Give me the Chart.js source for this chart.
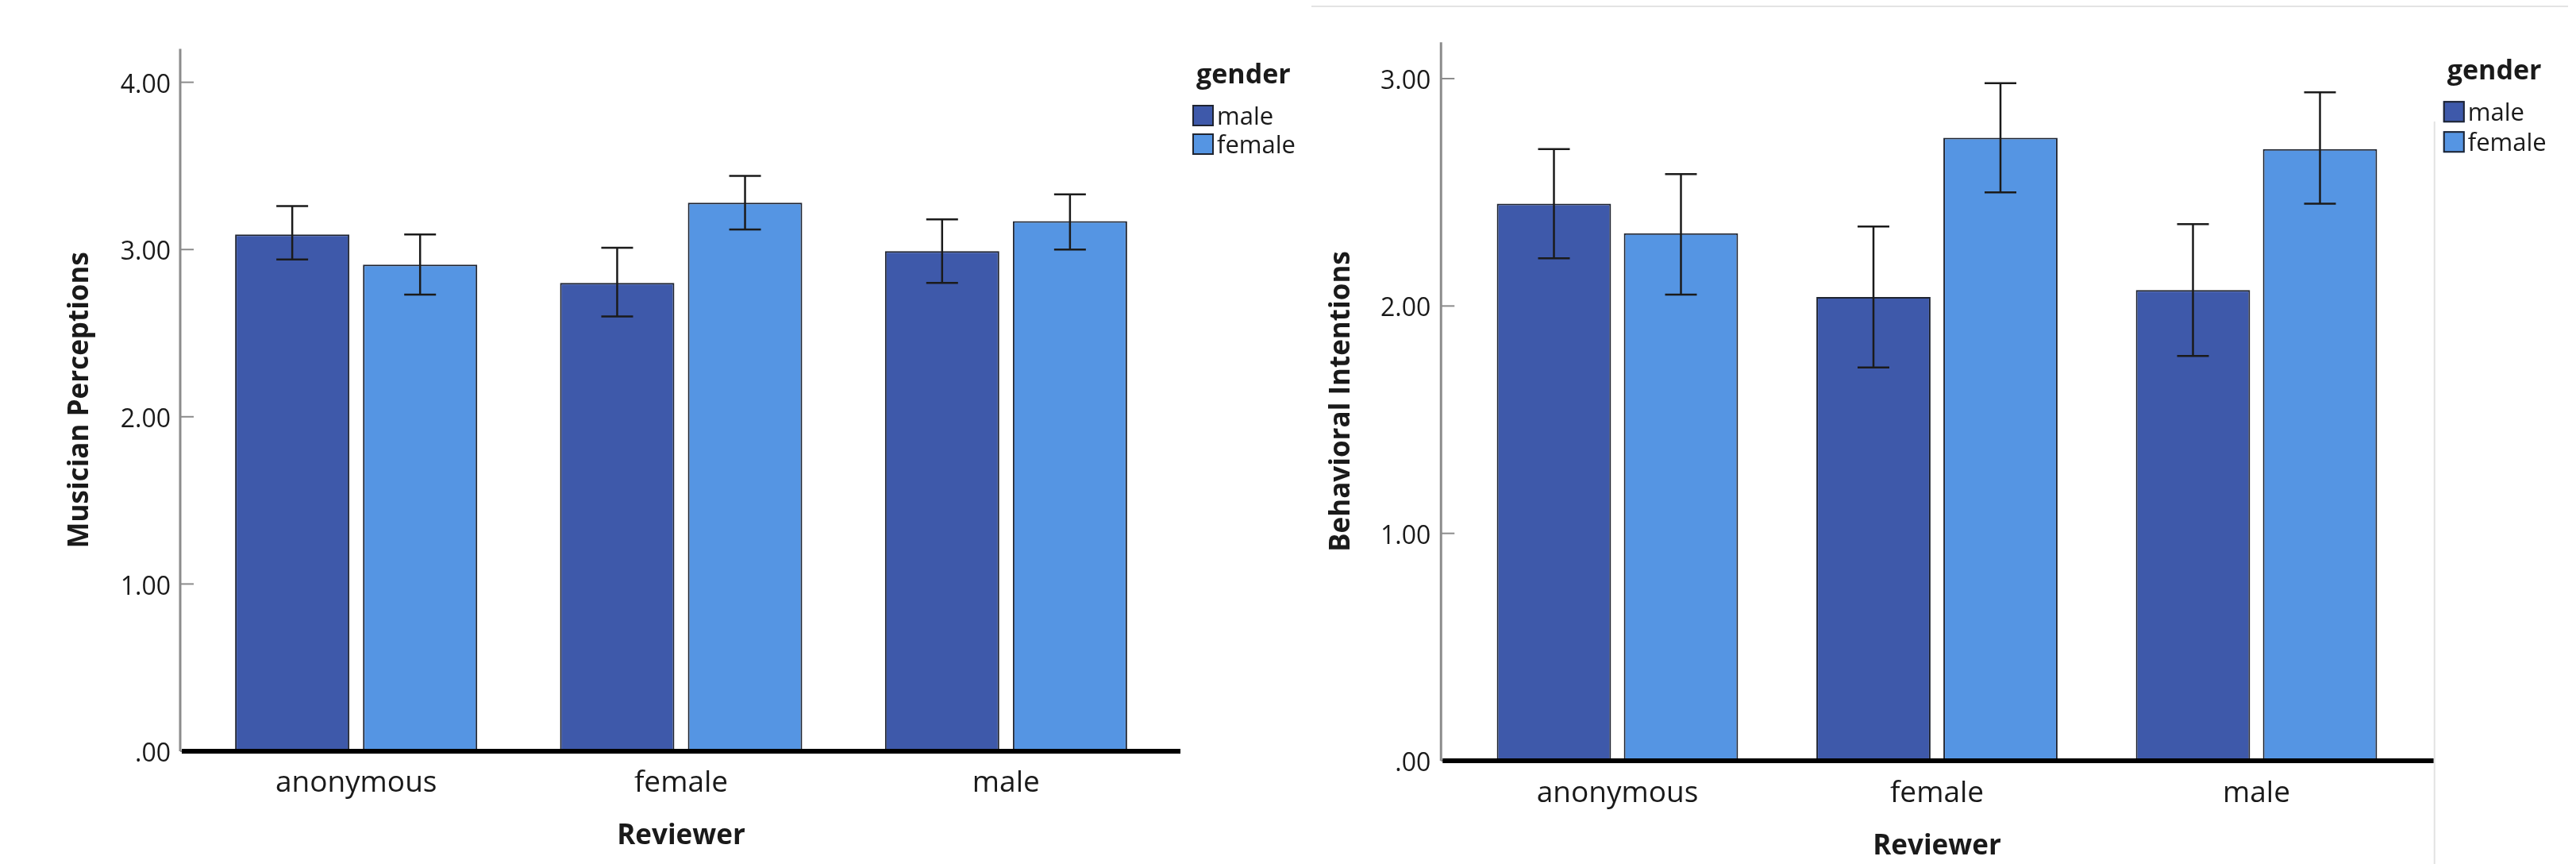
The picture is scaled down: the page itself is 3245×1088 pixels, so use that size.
<!DOCTYPE html>
<html><head><meta charset="utf-8">
<script src="https://cdn.jsdelivr.net/npm/chart.js@4.4.1/dist/chart.umd.min.js"></script>
<style>
html,body{margin:0;padding:0;background:#fff;}
body{width:3245px;height:1088px;position:relative;overflow:hidden;}
#c1{position:absolute;left:0;top:0;}
#c2{position:absolute;left:1650px;top:0;}
</style></head><body>
<canvas id="c1" width="1650" height="1088"></canvas>
<canvas id="c2" width="1595" height="1088"></canvas>
<script>
// ---- data ----
const categories = ['anonymous', 'female', 'male'];
const seriesNames = ['male', 'female'];
const legendTitle = 'gender';
const xTitle = 'Reviewer';

const musicianTitle = 'Musician Perceptions';
const musicianMale = [3.09, 2.80, 2.99];
const musicianFemale = [2.91, 3.28, 3.17];
const musicianMaleLow = [2.94, 2.60, 2.80];
const musicianMaleHigh = [3.26, 3.01, 3.18];
const musicianFemaleLow = [2.73, 3.12, 3.00];
const musicianFemaleHigh = [3.09, 3.44, 3.33];
const musicianTickValues = [0, 1, 2, 3, 4];
const musicianTickLabels = ['.00', '1.00', '2.00', '3.00', '4.00'];

const behavioralTitle = 'Behavioral Intentions';
const behavioralMale = [2.45, 2.04, 2.07];
const behavioralFemale = [2.32, 2.74, 2.69];
const behavioralMaleLow = [2.21, 1.73, 1.78];
const behavioralMaleHigh = [2.69, 2.35, 2.36];
const behavioralFemaleLow = [2.05, 2.50, 2.45];
const behavioralFemaleHigh = [2.58, 2.98, 2.94];
const behavioralTickValues = [0, 1, 2, 3];
const behavioralTickLabels = ['.00', '1.00', '2.00', '3.00'];

// ---- styling ----
const seriesColors = ['#3e59aa', '#5595e3'];
const FONT = "'Open Sans', 'DejaVu Sans', sans-serif";
const TEXT = '#1a1a1a';
const AXIS_GRAY = '#8c8c8c';

const spssPlugin = {
  id: 'spss',
  afterDatasetsDraw(chart, args, o) {
    const ctx = chart.ctx, y = chart.scales.y, a = chart.chartArea;
    // error bars
    chart.data.datasets.forEach((ds, di) => {
      const meta = chart.getDatasetMeta(di);
      meta.data.forEach((bar, i) => {
        const yl = y.getPixelForValue(ds.errLow[i]);
        const yh = y.getPixelForValue(ds.errHigh[i]);
        ctx.save();
        ctx.strokeStyle = o.errColor; ctx.lineWidth = o.errWidth;
        ctx.beginPath();
        ctx.moveTo(bar.x, yl); ctx.lineTo(bar.x, yh);
        ctx.moveTo(bar.x - o.cap / 2, yl); ctx.lineTo(bar.x + o.cap / 2, yl);
        ctx.moveTo(bar.x - o.cap / 2, yh); ctx.lineTo(bar.x + o.cap / 2, yh);
        ctx.stroke();
        ctx.restore();
      });
    });
    // y axis line + inward ticks
    const ax = a.left - o.axisGap;
    const y0 = y.getPixelForValue(0);
    ctx.save();
    ctx.strokeStyle = AXIS_GRAY; ctx.lineWidth = 3;
    ctx.beginPath(); ctx.moveTo(ax, a.top); ctx.lineTo(ax, y0); ctx.stroke();
    ctx.lineWidth = 2;
    y.ticks.forEach((t, i) => {
      const py = y.getPixelForTick(i);
      ctx.beginPath(); ctx.moveTo(ax, py); ctx.lineTo(ax + 17, py); ctx.stroke();
    });
    // baseline
    ctx.strokeStyle = '#000'; ctx.lineWidth = 6;
    ctx.beginPath(); ctx.moveTo(ax + 2, y0); ctx.lineTo(a.right + o.baseExt, y0); ctx.stroke();
    ctx.restore();
  },
  afterDraw(chart, args, o) {
    const ctx = chart.ctx, a = chart.chartArea, L = o.legend;
    ctx.save();
    // frame artifacts
    if (o.frame) {
      ctx.strokeStyle = '#e3e3e3'; ctx.lineWidth = 2;
      ctx.beginPath();
      ctx.moveTo(o.frame.x1, o.frame.top); ctx.lineTo(o.frame.x2, o.frame.top);
      ctx.moveTo(a.right + o.baseExt + 1, o.frame.vTop); ctx.lineTo(a.right + o.baseExt + 1, chart.height);
      ctx.stroke();
    }
    // legend
    const lx = a.right + L.dx;
    ctx.fillStyle = TEXT;
    ctx.textBaseline = 'alphabetic'; ctx.textAlign = 'left';
    ctx.font = "bold 34px " + FONT;
    ctx.fillText(legendTitle, lx + 5, a.top + L.titleDy);
    ctx.font = "31px " + FONT;
    chart.data.datasets.forEach((ds, i) => {
      const sy = a.top + L.swatchDy + i * L.rowH;
      ctx.fillStyle = ds.backgroundColor;
      ctx.fillRect(lx, sy, 27, 27);
      ctx.strokeStyle = '#1f2430'; ctx.lineWidth = 2;
      ctx.strokeRect(lx + 1, sy + 1, 25, 25);
      ctx.fillStyle = TEXT;
      ctx.fillText(ds.label, lx + 31, sy + 25);
    });
    ctx.restore();
  }
};

function makeChart(canvasId, cfg) {
  return new Chart(document.getElementById(canvasId), {
    type: 'bar',
    data: {
      labels: categories,
      datasets: [
        { label: seriesNames[0], data: cfg.male, errLow: cfg.maleLow, errHigh: cfg.maleHigh,
          backgroundColor: seriesColors[0], borderColor: '#1f2430', borderWidth: 2,
          barPercentage: cfg.barPct, categoryPercentage: cfg.catPct },
        { label: seriesNames[1], data: cfg.female, errLow: cfg.femaleLow, errHigh: cfg.femaleHigh,
          backgroundColor: seriesColors[1], borderColor: '#1f2430', borderWidth: 2,
          barPercentage: cfg.barPct, categoryPercentage: cfg.catPct }
      ]
    },
    options: {
      responsive: false,
      animation: false,
      devicePixelRatio: 1,
      layout: { padding: cfg.padding },
      plugins: {
        legend: { display: false },
        tooltip: { enabled: false },
        spss: cfg.spss
      },
      scales: {
        x: {
          grid: { display: false },
          border: { display: false },
          ticks: { color: TEXT, font: { family: FONT, size: 37 }, padding: cfg.xTickPad, maxRotation: 0 },
          title: { display: true, text: xTitle, color: TEXT, font: { family: FONT, size: 35, weight: 'bold' },
                   padding: { top: 0, bottom: cfg.xTitlePad } },
          afterFit(s) { s.height = cfg.xHeight; }
        },
        y: {
          min: 0, max: cfg.yMax,
          grid: { display: false, drawTicks: false },
          border: { display: false },
          ticks: {
            stepSize: 1, includeBounds: false, padding: cfg.yTickPad, labelOffset: 4,
            color: TEXT, font: { family: FONT, size: 32 },
            callback: (v) => { const k = cfg.tickValues.indexOf(v); return k >= 0 ? cfg.tickLabels[k] : ''; }
          },
          title: { display: true, text: cfg.yTitle, color: TEXT, font: { family: FONT, size: 35, weight: 'bold' },
                   padding: { top: 0, bottom: 0 } },
          afterFit(s) { s.width = cfg.yWidth; }
        }
      }
    },
    plugins: [spssPlugin]
  });
}

makeChart('c1', {
  male: musicianMale, female: musicianFemale,
  maleLow: musicianMaleLow, maleHigh: musicianMaleHigh,
  femaleLow: musicianFemaleLow, femaleHigh: musicianFemaleHigh,
  tickValues: musicianTickValues, tickLabels: musicianTickLabels,
  yTitle: musicianTitle, yMax: 4.2,
  padding: { left: 80, right: 178, top: 61.5, bottom: 0 },
  yWidth: 164, xHeight: 142, xTickPad: 10, xTitlePad: 14, yTickPad: 29,
  barPct: 0.894, catPct: 0.787,
  spss: { errColor: '#1b1b1b', errWidth: 2.5, cap: 40, axisGap: 17, baseExt: 15,
          legend: { dx: 30, titleDy: 43.5, swatchDy: 70.5, rowH: 36 } }
});

makeChart('c2', {
  male: behavioralMale, female: behavioralFemale,
  maleLow: behavioralMaleLow, maleHigh: behavioralMaleHigh,
  femaleLow: behavioralFemaleLow, femaleHigh: behavioralFemaleHigh,
  tickValues: behavioralTickValues, tickLabels: behavioralTickLabels,
  yTitle: behavioralTitle, yMax: 3.16,
  padding: { left: 19, right: 201.25, top: 9, bottom: 0 },
  yWidth: 167.25, xHeight: 130, xTickPad: 11, xTitlePad: 1, yTickPad: 34,
  barPct: 0.899, catPct: 0.795,
  spss: { errColor: '#1b1b1b', errWidth: 2.5, cap: 40, axisGap: 21, baseExt: 22,
          frame: { x1: 2, x2: 1585, top: 8, vTop: 153 },
          legend: { dx: 34, titleDy: 47, swatchDy: 74, rowH: 38 } }
});
</script>
</body></html>
